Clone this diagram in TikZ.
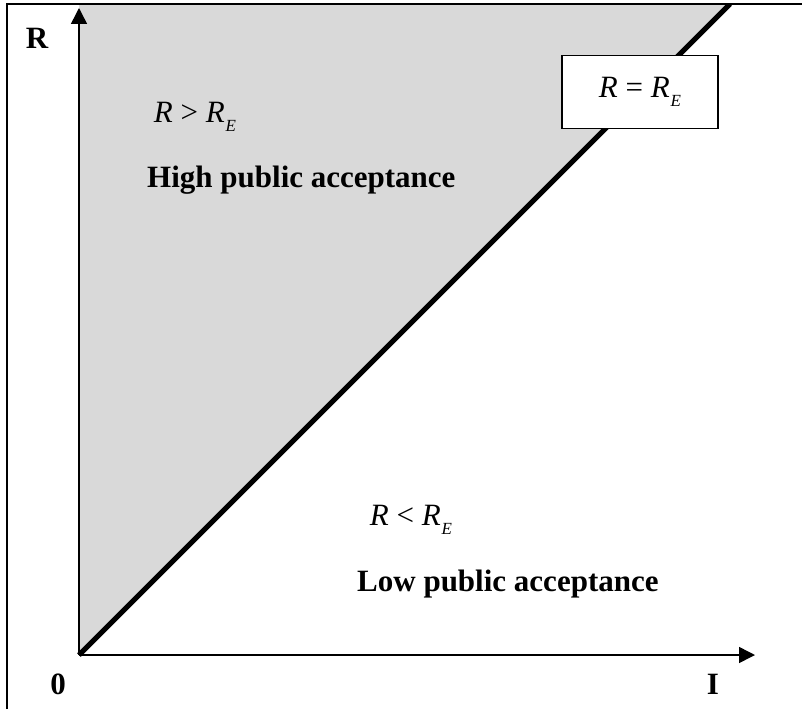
\documentclass[tikz,border=0pt]{standalone}
\usepackage{fontspec}
\setmainfont{Liberation Serif}
\usetikzlibrary{arrows.meta, positioning}
\definecolor{areagray}{HTML}{D9D9D9}
\newcommand{\Rsub}{\textit{R}\kern1pt\raisebox{-0.3em}{\fontsize{17}{17}\selectfont\textit{E}}}
\tikzset{
    axis/.style={line width=1.5pt, -{Triangle[length=16pt,width=16pt]}},
    boundary/.style={line width=5pt},
    axislabel/.style={font=\fontsize{31}{36}\selectfont\bfseries, inner sep=0pt},
    relation/.style={font=\fontsize{31}{36}\selectfont, inner sep=0pt, anchor=base},
    region/.style={font=\fontsize{31}{36}\selectfont\bfseries, inner sep=0pt, anchor=base west},
    eqbox/.style={draw, line width=1.5pt, fill=white, minimum width=156pt, minimum height=73pt,
        font=\fontsize{31}{36}\selectfont}
}
\begin{document}
\begin{tikzpicture}[x=1pt, y=-1pt]
    \useasboundingbox (0,0) rectangle (802,709);
    \coordinate (O) at (79,655);
    \coordinate (Rtop) at (79,4);
    \coordinate (Ytip) at (79,8);
    \coordinate (Itip) at (755,655);
    \coordinate (E) at (730,4);

    % region above the line
    \fill[areagray] (O) -- (Rtop) -- (E) -- cycle;
    \draw[line width=1.5pt] (7,709) -- (7,4) -- (802,4);

    \begin{scope}
        \clip (0,4) rectangle (802,709);
        \draw[boundary] (O) -- (E);
    \end{scope}
    \draw[axis] (O) -- (Ytip);
    \draw[axis] (O) -- (Itip);

    \node[axislabel] (Rlab) at (37,38) {R};
    \node[axislabel] (zero) at (58,684) {0};
    \node[axislabel] (Ilab) at (713,684) {I};

    \node[eqbox] (eq) at (640,92) {\textit{R} = \Rsub};
    \node[relation] (gt) at (195,122) {\textit{R} > \Rsub};
    \node[region] (high) at (147,187) {High public acceptance};
    \node[relation] (lt) at (411,525) {\textit{R} < \Rsub};
    \node[region] (low) at (357,591) {Low public acceptance};
\end{tikzpicture}
\end{document}
